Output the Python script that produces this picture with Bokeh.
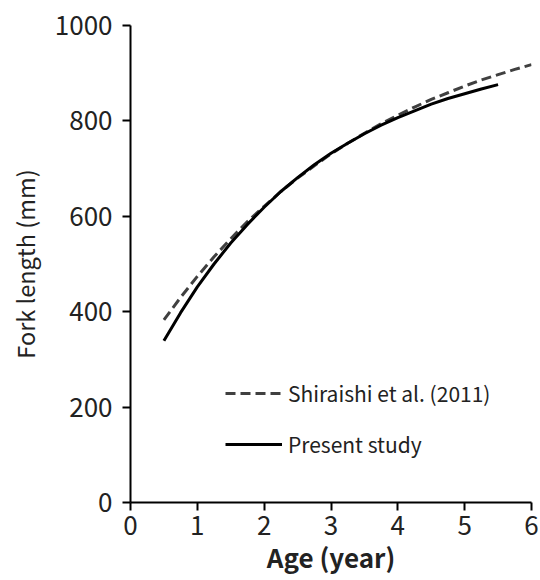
from bokeh.plotting import figure
from bokeh.models import Range1d, Legend, LegendItem, FixedTicker
from bokeh.embed import file_html
from bokeh.resources import INLINE

# Age (year)
age_present = [0.5, 0.75, 1.0, 1.25, 1.5, 1.75, 2.0, 2.25, 2.5, 2.75, 3.0,
               3.25, 3.5, 3.75, 4.0, 4.25, 4.5, 4.75, 5.0, 5.25, 5.5]
# Fork length (mm), present study
fl_present = [339, 398, 452, 500, 544, 583, 619, 652, 681, 708, 732,
              753, 773, 791, 807, 821, 835, 847, 857, 867, 876]

age_shiraishi = [0.5, 0.75, 1.0, 1.25, 1.5, 1.75, 2.0, 2.25, 2.5, 2.75, 3.0,
                 3.25, 3.5, 3.75, 4.0, 4.25, 4.5, 4.75, 5.0, 5.25, 5.5, 5.75, 6.0]
# Fork length (mm), Shiraishi et al. (2011)
fl_shiraishi = [383, 430, 474, 515, 553, 589, 621, 652, 680, 706, 731,
                753, 774, 794, 812, 829, 845, 859, 873, 886, 897, 908, 918]

x_ticks = [0, 1, 2, 3, 4, 5, 6]
y_ticks = [0, 200, 400, 600, 800, 1000]

FONT = "Noto Sans CJK JP"

p = figure(width=540, height=580, output_backend="svg", toolbar_location=None,
           x_range=Range1d(0, 6), y_range=Range1d(0, 1000),
           min_border_left=130, min_border_right=9, min_border_top=25,
           min_border_bottom=78)
p.outline_line_color = None
p.grid.visible = False
p.background_fill_color = "white"
p.border_fill_color = "white"

xa = p.xaxis[0]
ya = p.yaxis[0]
for ax in (xa, ya):
    ax.axis_line_color = "black"
    ax.axis_line_width = 2
    ax.major_tick_line_color = "black"
    ax.major_tick_line_width = 2
    ax.major_tick_out = 8
    ax.major_tick_in = 0
    ax.minor_tick_line_color = None
    ax.major_label_text_font = FONT
    ax.major_label_text_font_size = "26px"
    ax.major_label_text_color = "#222222"
    ax.axis_label_text_font = FONT
    ax.axis_label_text_color = "#222222"

xa.ticker = FixedTicker(ticks=x_ticks)
ya.ticker = FixedTicker(ticks=y_ticks)
xa.axis_label = "Age (year)"
xa.axis_label_text_font_style = "bold"
xa.axis_label_text_font_size = "26px"
ya.axis_label = "Fork length (mm)"
ya.axis_label_text_font_style = "normal"
ya.axis_label_text_font_size = "23.5px"
xa.major_label_standoff = 5
ya.major_label_standoff = 10
xa.axis_label_standoff = 0
ya.axis_label_standoff = 10

r_sh = p.line(age_shiraishi, fl_shiraishi, line_color="#404040", line_width=3,
              line_dash="10 5")
r_pr = p.line(age_present, fl_present, line_color="black", line_width=3)

legend = Legend(items=[LegendItem(label="Shiraishi et al. (2011)", renderers=[r_sh]),
                       LegendItem(label="Present study", renderers=[r_pr])],
                location=(95, 43), orientation="vertical",
                glyph_width=57, glyph_height=30, label_height=30, spacing=21,
                padding=0, margin=0, label_standoff=6,
                label_text_font=FONT, label_text_font_size="21px",
                label_text_color="#222222",
                border_line_color=None, background_fill_alpha=0)
p.add_layout(legend, "center")

open("out.html", "w").write(file_html(p, INLINE))
